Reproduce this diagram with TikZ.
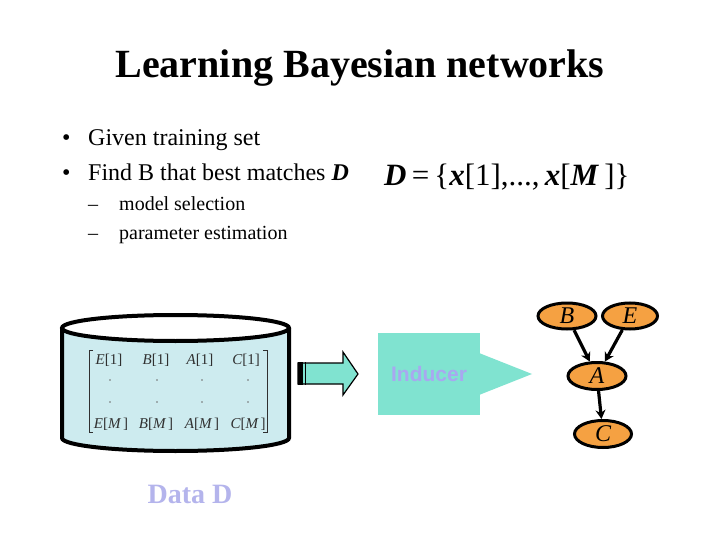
\documentclass[tikz,border=0pt]{standalone}
\usepackage{fontspec}
\setmainfont{Liberation Serif}
\setsansfont{Liberation Sans}
\usetikzlibrary{shapes.geometric,arrows.meta}
\definecolor{tealfill}{HTML}{80E3D0}
\definecolor{cylfill}{HTML}{CDEBEF}
\definecolor{nodeorange}{HTML}{F5A142}
\definecolor{lavender}{HTML}{A8A8F0}
\definecolor{datacol}{HTML}{B4B4EC}
\definecolor{mattext}{HTML}{303030}
\begin{document}
\begin{tikzpicture}[x=1pt,y=-1pt,
  txt/.style={anchor=base west,inner sep=0pt},
  bn/.style={ellipse,draw=black,line width=3pt,fill=nodeorange,minimum width=58pt,minimum height=26pt,inner sep=0pt,font=\fontsize{24}{26}\selectfont\itshape},
  edge/.style={line width=3.2pt,-{Stealth[length=9pt,width=10pt]}},
  ment/.style={anchor=base,inner sep=0pt,text=mattext,font=\fontsize{15}{17}\selectfont\itshape},
  mdot/.style={fill=mattext!70,circle,inner sep=0pt,minimum size=1.6pt}
]
\useasboundingbox (0,0) rectangle (720,540);
\fill[white] (0,0) rectangle (720,540);

% title
\node[anchor=base,inner sep=0pt] (title) at (360,78) {\fontsize{40}{48}\selectfont\bfseries Learning Bayesian networks};

% bullets
\node[txt] (b1) at (62,146) {\fontsize{24}{28}\selectfont •};
\node[txt] (t1) at (88,146) {\fontsize{24}{28}\selectfont Given training set};
\node[txt] (b2) at (62,181) {\fontsize{24}{28}\selectfont •};
\node[txt] (t2) at (88,181) {\fontsize{24}{28}\selectfont Find B that best matches \textbf{\textit{D}}};
\node[txt] (d1) at (88,211) {\fontsize{20}{24}\selectfont –};
\node[txt] (s1) at (119,211) {\fontsize{20}{24}\selectfont model selection};
\node[txt] (d2) at (88,240) {\fontsize{20}{24}\selectfont –};
\node[txt] (s2) at (119,240) {\fontsize{20}{24}\selectfont parameter estimation};

% formula
\node[txt] (formula) at (384,186) {\fontsize{31}{34}\selectfont\textbf{\textit{D}}\,=\,\{\textbf{\textit{x}}[1],...,\,\textbf{\textit{x}}[\textbf{\textit{M}}\,]\}};

% cylinder
\fill[cylfill] (62,328) -- (62,438) arc[start angle=180,end angle=0,x radius=113.5,y radius=13] -- (289,328) arc[start angle=0,end angle=180,x radius=113.5,y radius=13] -- cycle;
\draw[line width=4pt] (62,328) -- (62,438) arc[start angle=180,end angle=0,x radius=113.5,y radius=13] -- (289,328);
\draw[line width=4pt] (175.5,328) ellipse[x radius=113.5,y radius=13];

% matrix
\draw[mattext,line width=0.8pt] (93,350) -- (89,350) -- (89,432) -- (93,432);
\draw[mattext,line width=0.8pt] (263,350) -- (267,350) -- (267,432) -- (263,432);
\node[ment] (e1) at (109,364) {E\upshape[1]};
\node[ment] (bb1) at (156,364) {B\upshape[1]};
\node[ment] (a1) at (200,364) {A\upshape[1]};
\node[ment] (c1) at (246,364) {C\upshape[1]};
\node[ment] (em) at (111,428) {E\upshape[\itshape M\upshape\,]};
\node[ment] (bm) at (156,428) {B\upshape[\itshape M\upshape\,]};
\node[ment] (am) at (202,428) {A\upshape[\itshape M\upshape\,]};
\node[ment] (cm) at (248,428) {C\upshape[\itshape M\upshape\,]};
\foreach \x/\n in {110/a,157/b,202/c,248/d}{
  \node[mdot] (p1\n) at (\x,380) {};
  \node[mdot] (p2\n) at (\x,402) {};
}

% data label
\node[anchor=base,inner sep=0pt,text=datacol] (data) at (190,503) {\fontsize{28}{32}\selectfont\bfseries Data D};

% block arrow
\draw[fill=tealfill,line width=1.2pt,line join=miter] (298,363) -- (343,363) -- (343,352) -- (358,374) -- (343,395) -- (343,384) -- (298,384) -- cycle;
\fill[black] (298,362) rectangle (303,385);
\draw[black,line width=1pt] (305.5,362) -- (305.5,385);

% inducer
\node[fill=tealfill,minimum width=102pt,minimum height=82pt,inner sep=0pt] (inducer) at (429,374) {};
\fill[tealfill] (479,353) -- (532,374) -- (479,395) -- cycle;
\node[text=lavender,inner sep=0pt] (indtxt) at (inducer.center) {\sffamily\bfseries\fontsize{21}{24}\selectfont Inducer};

% network
\node[bn] (B) at (567,316) {B};
\node[bn,minimum width=55pt] (E) at (630,316) {E};
\node[bn,minimum height=27pt] (A) at (597,376) {A};
\node[bn,minimum width=57pt,minimum height=27pt] (C) at (603,434) {C};
\draw[edge] (B) -- (A);
\draw[edge] (E) -- (A);
\draw[edge] (A) -- (C);
\end{tikzpicture}
\end{document}
